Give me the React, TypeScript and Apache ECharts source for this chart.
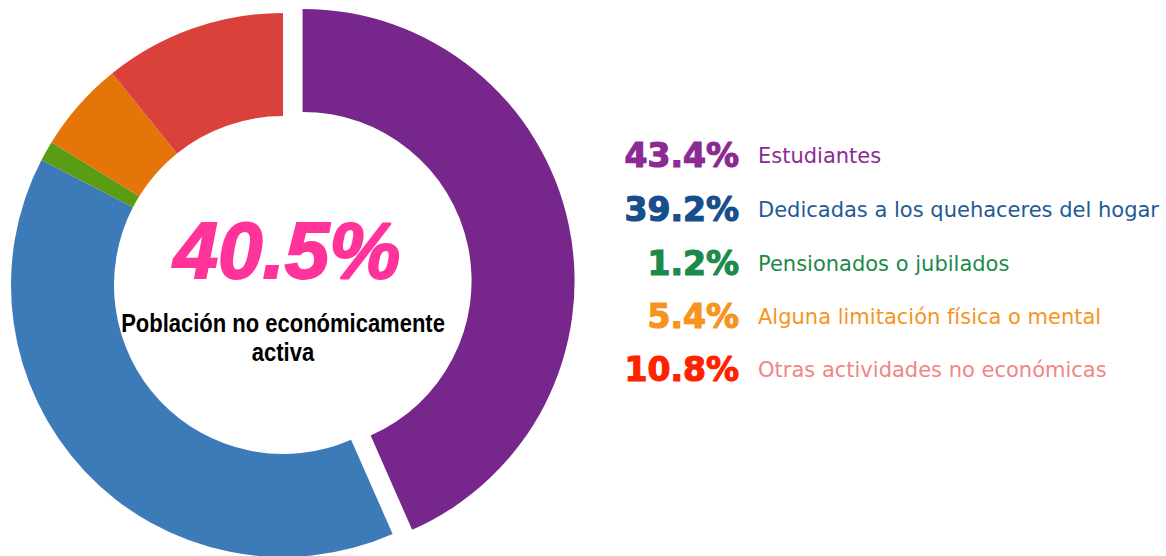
import React, { useEffect, useRef } from "react";
import * as echarts from "echarts";

const categories = [
  "Estudiantes",
  "Dedicadas a los quehaceres del hogar",
  "Pensionados o jubilados",
  "Alguna limitación física o mental",
  "Otras actividades no económicas",
];
const values = [43.4, 39.2, 1.2, 5.4, 10.8];
const sliceColors = ["#77278b", "#3d7ab8", "#5a9c13", "#e57508", "#d9413a"];
const pctColors = ["#8c2a94", "#174e8c", "#1b8a4a", "#f7941d", "#ff2200"];
const labelColors = ["#8c2a94", "#1f5a96", "#1b8a4a", "#f7941d", "#f28585"];
const centerValue = "40.5%";
const centerLabel = "Población no económicamente\nactiva";

export default function App() {
  const ref = useRef<HTMLDivElement>(null);
  useEffect(() => {
    document.body.style.margin = "0";
    const chart = echarts.init(ref.current!, undefined, { renderer: "svg" });
    const rowY = [155, 209, 263, 316, 369];
    const legend: any[] = [];
    categories.forEach((c, i) => {
      legend.push({
        type: "text",
        x: 739,
        y: rowY[i],
        z: 10,
        style: {
          text: values[i].toFixed(1) + "%",
          fill: pctColors[i],
          stroke: pctColors[i],
          lineWidth: 1.2,
          font: "bold 33px 'DejaVu Sans'",
          align: "right",
          verticalAlign: "middle",
        },
      });
      legend.push({
        type: "text",
        x: 758,
        y: rowY[i] + 1,
        z: 10,
        style: {
          text: c,
          fill: labelColors[i],
          font: "21px 'DejaVu Sans'",
          align: "left",
          verticalAlign: "middle",
        },
      });
    });
    chart.setOption({
      animation: false,
      backgroundColor: "#ffffff",
      series: [
        {
          type: "pie",
          center: [283, 285],
          radius: [169, 272],
          startAngle: 90,
          clockwise: true,
          selectedMode: "single",
          selectedOffset: 20,
          label: { show: false },
          labelLine: { show: false },
          emphasis: { disabled: true },
          silent: true,
          z: 2,
          data: categories.map((c, i) => ({
            name: c,
            value: values[i],
            selected: i === 0,
            itemStyle: { color: sliceColors[i] },
          })),
        },
      ],
      graphic: [
        {
          type: "text",
          x: 287,
          y: 250,
          z: 10,
          style: {
            text: centerValue,
            fill: "#ff3399",
            stroke: "#ff3399",
            lineWidth: 2,
            font: "italic bold 80px 'Liberation Sans'",
            align: "center",
            verticalAlign: "middle",
          },
        },
        {
          type: "text",
          x: 283,
          y: 338,
          z: 10,
          scaleX: 0.88,
          style: {
            text: centerLabel,
            fill: "#000000",
            font: "bold 25px 'Liberation Sans'",
            align: "center",
            verticalAlign: "middle",
            lineHeight: 29,
          },
        },
        ...legend,
      ],
    });
    return () => chart.dispose();
  }, []);
  return <div ref={ref} style={{ width: 1166, height: 556 }} />;
}
